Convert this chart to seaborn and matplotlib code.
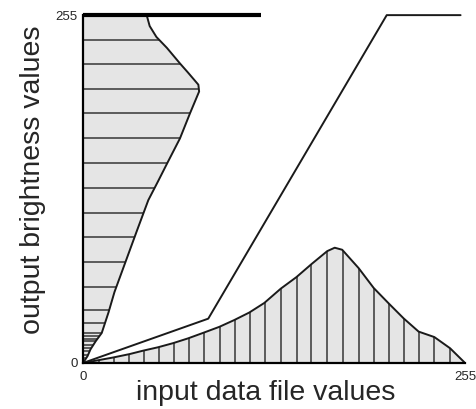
import numpy as np
import pandas as pd
import seaborn as sns
import matplotlib
matplotlib.use("Agg")
import matplotlib.pyplot as plt

# ---------------- data ----------------
# input (data file) histogram outline, along x axis
input_hist_x = [0, 20, 31, 40, 50, 60, 70, 80, 91, 101, 111, 121, 132, 142.5, 152.5, 163, 168, 173, 184, 194, 204, 214, 224, 234.5, 245, 255]
input_hist_y = [0, 4, 6.5, 9, 11.5, 14.5, 18, 22, 26.5, 31.5, 37, 44, 54.5, 63, 72.5, 82, 84.5, 83, 69.5, 55, 43.7, 32.7, 23, 19, 10.8, 0]
# positions of the vertical bin lines of the input histogram
input_bin_x = [11, 21, 31, 41, 51, 61, 71, 81, 91.5, 101.5, 111.5, 121.5, 132, 142.5, 152.5, 163, 173.5, 184, 194, 204, 214, 224, 234.5, 245]

# output (brightness) histogram outline, along y axis
output_hist_y = [0, 5, 10, 16, 22, 27, 37, 52, 73, 97, 119.4, 133, 146, 164.6, 183, 199, 204, 213, 219.6, 231, 239, 247, 255]
output_hist_w = [0, 3, 5, 8.5, 12.5, 14, 17, 21, 28, 36, 43.6, 50, 56, 64.7, 71.4, 77.5, 77, 70, 64.7, 56, 49, 44.5, 42.5]
# positions of the horizontal bin lines of the output histogram
output_bin_y = [3.5, 6, 8.5, 11, 13.4, 15.8, 17.6, 19.5, 22, 29.3, 39, 55.5, 74.2, 92.5, 109.7, 128, 146.3, 164.6, 183, 200.5, 219.5, 237]
# bins piled at the top output value
top_pile_w = [0, 119]

# lookup table (stretch) line
lookup_x = [0, 83.6, 202.7, 252]
lookup_y = [0, 32.5, 255, 255]

tick_values = [0, 255]
tick_labels = ["0", "255"]
x_label = "input data file values"
y_label = "output brightness values"

# ---------------- style ----------------
sns.set_style("white")
plt.rcParams["font.family"] = ["Liberation Sans", "DejaVu Sans"]

fill_col = "#e5e5e5"
edge_col = "#1a1a1a"
bin_col = "#505050"

fig = plt.figure(figsize=(4.77, 4.09), dpi=100)
ax = fig.add_axes([0.174, 0.1125, 0.801, 0.8505])

# input histogram
poly_in = ax.fill_between(input_hist_x, 0, input_hist_y, color=fill_col, lw=0, zorder=1)
vl = ax.vlines(input_bin_x, 0, 255, colors=bin_col, lw=1.3, zorder=2)
vl.set_clip_path(poly_in.get_paths()[0], ax.transData)
df_in = pd.DataFrame({"x": input_hist_x, "y": input_hist_y})
sns.lineplot(data=df_in, x="x", y="y", sort=False, estimator=None, color=edge_col, lw=1.4, ax=ax, zorder=3)

# output histogram
poly_out = ax.fill_betweenx(output_hist_y, 0, output_hist_w, color=fill_col, lw=0, zorder=1)
hl = ax.hlines(output_bin_y, 0, 255, colors=bin_col, lw=1.3, zorder=2)
hl.set_clip_path(poly_out.get_paths()[0], ax.transData)
df_out = pd.DataFrame({"w": output_hist_w, "y": output_hist_y})
sns.lineplot(data=df_out, x="w", y="y", sort=False, estimator=None, color=edge_col, lw=1.4, ax=ax, zorder=3)
ax.plot(top_pile_w, [255, 255], color="black", lw=3, solid_capstyle="butt", clip_on=False, zorder=4)

# lookup line
df_lut = pd.DataFrame({"x": lookup_x, "y": lookup_y})
sns.lineplot(data=df_lut, x="x", y="y", sort=False, estimator=None, color=edge_col, lw=1.4, ax=ax, zorder=3)
ax.lines[-1].set_clip_on(False)

ax.set_xlim(0, 255)
ax.set_ylim(0, 255)
for s in ["top", "right"]:
    ax.spines[s].set_visible(False)
for s in ["left", "bottom"]:
    ax.spines[s].set_color("black")
    ax.spines[s].set_linewidth(1.6)
    ax.spines[s].set_zorder(5)

ax.set_xticks(tick_values)
ax.set_xticklabels(tick_labels, fontsize=9.5)
ax.set_yticks(tick_values)
ax.set_yticklabels(tick_labels, fontsize=9.5)
ax.tick_params(axis="x", length=0, pad=6)
ax.tick_params(axis="y", length=0, pad=4)
ax.set_xlabel(x_label, fontsize=20.5)
ax.set_ylabel(y_label, fontsize=20.5)
ax.xaxis.set_label_coords(0.479, -0.05)
ax.yaxis.set_label_coords(-0.097, 0.526)

fig.savefig("out.png", dpi=100)
